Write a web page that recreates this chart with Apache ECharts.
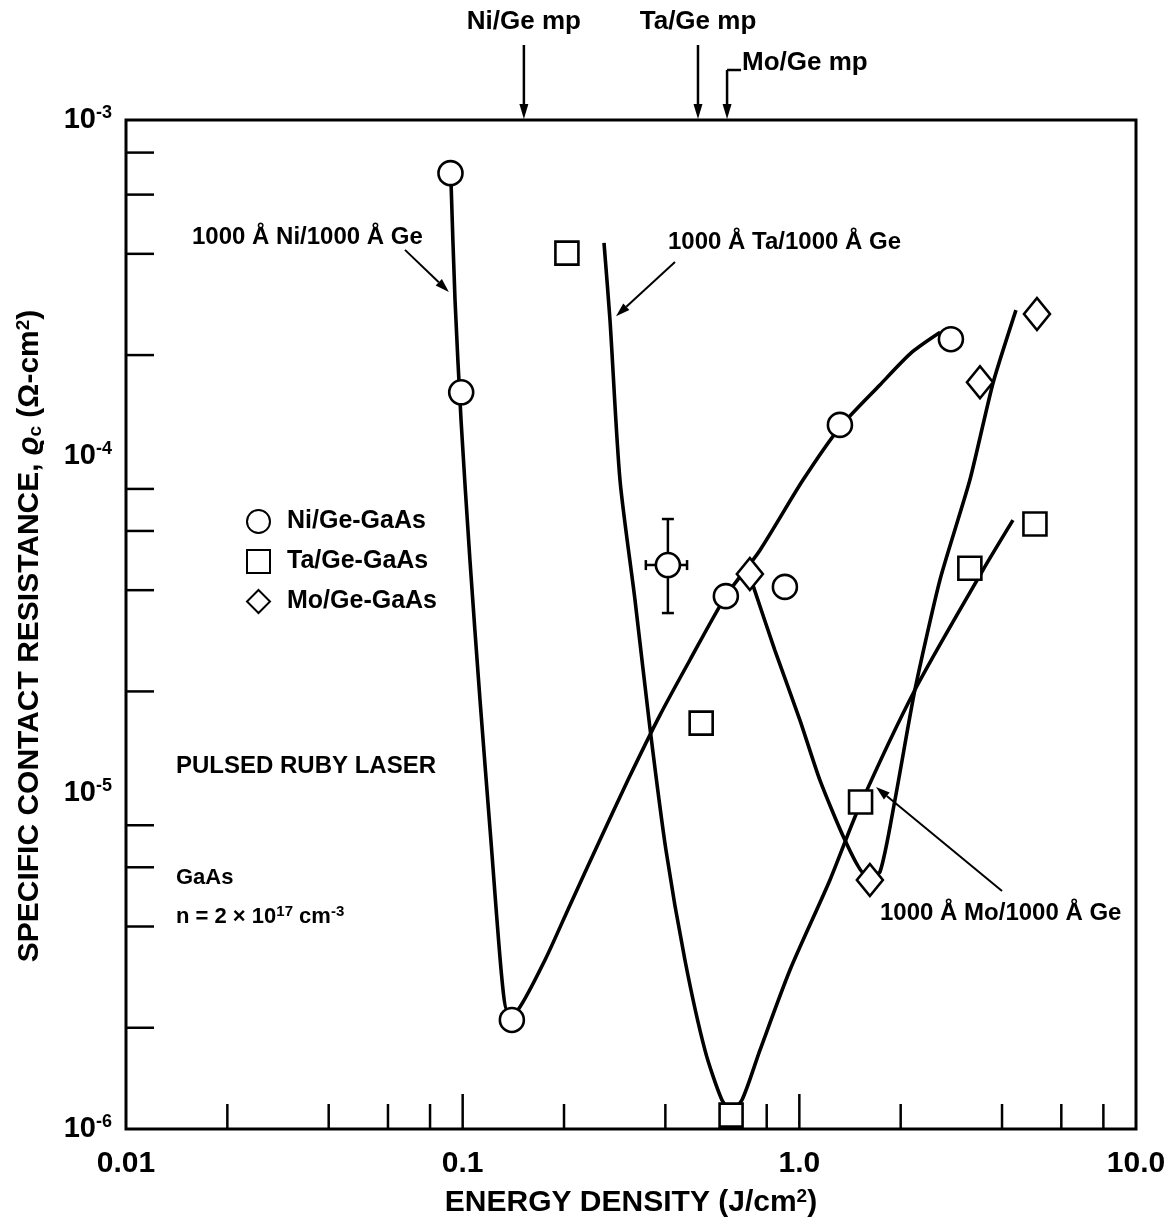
<!DOCTYPE html>
<html><head><meta charset="utf-8">
<script src="https://cdn.jsdelivr.net/npm/echarts@6/dist/echarts.min.js"></script>
<style>html,body{margin:0;padding:0;background:#fff}#c{width:1170px;height:1221px}</style>
</head><body><div id="c"></div>
<script>
// ---------- data ----------
const xTickText = {'-2':'0.01','-1':'0.1','0':'1.0','1':'10.0'};
const yMinorTicks = [2e-6,4e-6,6e-6,8e-6,2e-5,4e-5,6e-5,8e-5,2e-4,4e-4,6e-4,8e-4];
const xMinorTicks = [0.02,0.04,0.06,0.08,0.2,0.4,0.6,0.8,2,4,6,8];
const xMajorTicks = [0.1,1];

const niEnergy = [0.092, 0.099, 0.140, 0.605, 0.906, 1.32, 2.82, 0.407];
const niRes    = [6.95e-4, 1.55e-4, 2.11e-6, 3.84e-5, 4.09e-5, 1.24e-4, 2.23e-4, 4.75e-5];
const taEnergy = [0.204, 0.511, 0.627, 1.52, 3.21, 5.01];
const taRes    = [4.02e-4, 1.61e-5, 1.10e-6, 9.38e-6, 4.65e-5, 6.29e-5];
const moEnergy = [0.713, 1.62, 3.44, 5.08];
const moRes    = [4.47e-5, 5.5e-6, 1.66e-4, 2.65e-4];

// error bar on one Ni point: [energy, res, eLow, eHigh, resLow, resHigh]
const errBar = [0.407, 4.75e-5, 0.350, 0.464, 3.42e-5, 6.51e-5];

// fitted curves
const niCurveE = [0.0923,0.0949,0.0989,0.1051,0.1126,0.1213,0.1309,0.1363,0.146,0.1756,0.2083,0.2557,0.3097,0.3855,0.4732,0.605,0.764,1.025,1.32,1.735,2.16,2.62];
const niCurveR = [6.63e-4,2.92e-4,1.28e-4,4.91e-5,1.885e-5,7.23e-6,2.77e-6,2.23e-6,2.26e-6,3.18e-6,4.63e-6,7.23e-6,1.09e-5,1.70e-5,2.48e-5,3.84e-5,5.26e-5,8.50e-5,1.22e-4,1.63e-4,2.04e-4,2.34e-4];
const taCurveE = [0.2629,0.2739,0.2933,0.325,0.360,0.4016,0.4573,0.5244,0.589,0.627,0.6754,0.764,0.938,1.233,1.493,2.204,3.51,4.31];
const taCurveR = [4.31e-4,2.54e-4,8.50e-5,3.74e-5,1.556e-5,6.75e-6,3.18e-6,1.716e-6,1.219e-6,1.138e-6,1.219e-6,1.716e-6,2.97e-6,5.50e-6,8.88e-6,2.02e-5,4.59e-5,6.46e-5];
const moCurveE = [0.728,0.846,1.004,1.151,1.366,1.577,1.735,1.923,2.204,2.616,3.21,3.76,4.40];
const moCurveR = [4.14e-5,2.65e-5,1.644e-5,1.09e-5,7.23e-6,5.69e-6,5.81e-6,9.51e-6,2.02e-5,4.29e-5,8.50e-5,1.65e-4,2.72e-4];

// annotation arrows [x1,y1,x2,y2] (arrow head at second point)
const annoArrows = [
  [0.0674, 4.11e-4, 0.0910, 3.08e-4],
  [0.4272, 3.78e-4, 0.2854, 2.61e-4],
  [4.00, 5.10e-6, 1.689, 1.039e-5]
];
// melting points
const mpEnergy = [0.152, 0.50, 0.61];
const mpLabels = ['Ni/Ge mp', 'Ta/Ge mp', 'Mo/Ge mp'];

const F = '"Liberation Sans", Arial, Helvetica, sans-serif';
const zip = (a, b) => a.map((v, i) => [v, b[i]]);
const X_MIN = 0.01, X_MAX = 10, Y_MIN = 1e-6, Y_MAX = 1e-3;

const chart = echarts.init(document.getElementById('c'), null, {renderer: 'canvas'});

const markerStyle = {color: '#fff', borderColor: '#000', borderWidth: 2.6, opacity: 1};
const curveStyle = {color: '#000', width: 3.6};

const option = {
  animation: false,
  backgroundColor: '#fff',
  grid: {left: 126, top: 120, width: 1010, height: 1009, containLabel: false, outerBoundsMode: 'none',
    show: true, borderColor: '#000', borderWidth: 3, backgroundColor: 'transparent'},
  xAxis: {
    type: 'log', logBase: 10, min: X_MIN, max: X_MAX,
    axisLine: {show: false}, axisTick: {show: false}, splitLine: {show: false}, minorTick: {show: false},
    axisLabel: {margin: 20, color: '#000', fontFamily: F, fontSize: 30, fontWeight: 'bold',
      formatter: v => xTickText[String(Math.round(Math.log10(v)))] || ''},
    name: '{t|ENERGY DENSITY (J/cm}{s|2}{t|)}', nameLocation: 'middle', nameGap: 58,
    nameTextStyle: {rich: {
      t: {fontFamily: F, fontSize: 30, fontWeight: 'bold', color: '#000'},
      s: {fontFamily: F, fontSize: 19, fontWeight: 'bold', color: '#000', verticalAlign: 'top', padding: [0, 0, 12, 0]}
    }}
  },
  yAxis: {
    type: 'log', logBase: 10, min: Y_MIN, max: Y_MAX,
    axisLine: {show: false}, axisTick: {show: false}, splitLine: {show: false},
    axisLabel: {margin: 14, color: '#000',
      formatter: v => '{b|10}{s|' + Math.round(Math.log10(v)) + '}',
      rich: {
        b: {fontFamily: F, fontSize: 29, fontWeight: 'bold', color: '#000'},
        s: {fontFamily: F, fontSize: 18, fontWeight: 'bold', color: '#000', verticalAlign: 'top', padding: [0, 0, 14, 0]}
      }}
  },
  legend: {
    data: ['Ni/Ge-GaAs', 'Ta/Ge-GaAs', 'Mo/Ge-GaAs'], selectedMode: false,
    orient: 'vertical', left: 241, top: 504, itemWidth: 23, itemHeight: 23, itemGap: 15,
    textStyle: {fontFamily: F, fontSize: 25, fontWeight: 'bold', color: '#000', padding: [0, 0, 0, 12]}
  },
  series: [
    // axis ticks
    {type: 'custom', silent: true, clip: false, z: 1, data: yMinorTicks.map(v => [X_MIN, v]),
      renderItem: (p, api) => { const c = api.coord([api.value(0), api.value(1)]);
        return {type: 'line', shape: {x1: c[0], y1: c[1], x2: c[0] + 28, y2: c[1]}, style: {stroke: '#000', lineWidth: 2.5}}; }},
    {type: 'custom', silent: true, clip: false, z: 1, data: xMinorTicks.map(v => [v, Y_MIN]),
      renderItem: (p, api) => { const c = api.coord([api.value(0), api.value(1)]);
        return {type: 'line', shape: {x1: c[0], y1: c[1], x2: c[0], y2: c[1] - 25}, style: {stroke: '#000', lineWidth: 2.5}}; }},
    {type: 'custom', silent: true, clip: false, z: 1, data: xMajorTicks.map(v => [v, Y_MIN]),
      renderItem: (p, api) => { const c = api.coord([api.value(0), api.value(1)]);
        return {type: 'line', shape: {x1: c[0], y1: c[1], x2: c[0], y2: c[1] - 35}, style: {stroke: '#000', lineWidth: 2.5}}; }},
    // curves
    {type: 'line', name: 'niCurve', data: zip(niCurveE, niCurveR), showSymbol: false, symbol: 'none', smooth: 0.25, lineStyle: curveStyle, z: 2},
    {type: 'line', name: 'taCurve', data: zip(taCurveE, taCurveR), showSymbol: false, symbol: 'none', smooth: 0.25, lineStyle: curveStyle, z: 2},
    {type: 'line', name: 'moCurve', data: zip(moCurveE, moCurveR), showSymbol: false, symbol: 'none', smooth: 0.2, lineStyle: curveStyle, z: 2},
    // error bar
    {type: 'custom', silent: true, z: 3, data: [errBar],
      renderItem: (p, api) => {
        const c = api.coord([api.value(0), api.value(1)]);
        const xl = api.coord([api.value(2), api.value(1)]), xh = api.coord([api.value(3), api.value(1)]);
        const yl = api.coord([api.value(0), api.value(4)]), yh = api.coord([api.value(0), api.value(5)]);
        const st = {stroke: '#000', lineWidth: 2.5};
        return {type: 'group', children: [
          {type: 'line', shape: {x1: c[0], y1: yl[1], x2: c[0], y2: yh[1]}, style: st},
          {type: 'line', shape: {x1: c[0] - 6, y1: yl[1], x2: c[0] + 6, y2: yl[1]}, style: st},
          {type: 'line', shape: {x1: c[0] - 6, y1: yh[1], x2: c[0] + 6, y2: yh[1]}, style: st},
          {type: 'line', shape: {x1: xl[0], y1: c[1], x2: xh[0], y2: c[1]}, style: st},
          {type: 'line', shape: {x1: xl[0], y1: c[1] - 5, x2: xl[0], y2: c[1] + 5}, style: st},
          {type: 'line', shape: {x1: xh[0], y1: c[1] - 5, x2: xh[0], y2: c[1] + 5}, style: st}
        ]};
      }},
    // annotation arrows
    {type: 'custom', silent: true, z: 3, data: annoArrows,
      renderItem: (p, api) => {
        const a = api.coord([api.value(0), api.value(1)]), b = api.coord([api.value(2), api.value(3)]);
        const dx = b[0] - a[0], dy = b[1] - a[1], L = Math.hypot(dx, dy), ux = dx / L, uy = dy / L;
        const hl = 14, hw = 4.5;
        const bx = b[0] - ux * hl, by = b[1] - uy * hl;
        return {type: 'group', children: [
          {type: 'line', shape: {x1: a[0], y1: a[1], x2: bx, y2: by}, style: {stroke: '#000', lineWidth: 2}},
          {type: 'polygon', shape: {points: [[b[0], b[1]], [bx - uy * hw, by + ux * hw], [bx + uy * hw, by - ux * hw]]}, style: {fill: '#000'}}
        ]};
      }},
    // markers
    {type: 'scatter', name: 'Ni/Ge-GaAs', data: zip(niEnergy, niRes), symbol: 'circle', symbolSize: 24, itemStyle: markerStyle, z: 5},
    {type: 'scatter', name: 'Ta/Ge-GaAs', data: zip(taEnergy, taRes), symbol: 'rect', symbolSize: 23, itemStyle: markerStyle, z: 5},
    {type: 'scatter', name: 'Mo/Ge-GaAs', data: zip(moEnergy, moRes), symbol: 'diamond', symbolSize: [26, 32], itemStyle: markerStyle, z: 5}
  ]
};
chart.setOption(option);

// ---------- text annotations ----------
const T = (x, y, text, size, align, extra) => Object.assign({type: 'text', x: x, y: y, silent: true, z: 10,
  style: {text: text, font: 'bold ' + size + 'px ' + F, fill: '#000', textAlign: align || 'left', textVerticalAlign: 'middle'}}, extra || {});
const g = [];
g.push(T(192, 237, '1000 Å Ni/1000 Å Ge', 24));
g.push(T(668, 242, '1000 Å Ta/1000 Å Ge', 24));
g.push(T(880, 913, '1000 Å Mo/1000 Å Ge', 24));
g.push(T(176, 766, 'PULSED RUBY LASER', 24));
g.push(T(176, 878, 'GaAs', 22));
g.push({type: 'text', x: 176, y: 917, silent: true, z: 10, style: {
  text: '{a|n = 2 × 10}{s|17}{a| cm}{s|-3}', textVerticalAlign: 'middle', textAlign: 'left',
  rich: {a: {font: 'bold 22px ' + F, fill: '#000'}, s: {font: 'bold 15px ' + F, fill: '#000', verticalAlign: 'top', padding: [0, 0, 10, 0]}}}});
// y axis title
g.push({type: 'text', x: 30, y: 636, rotation: Math.PI / 2, silent: true, z: 10, style: {
  text: '{t|SPECIFIC CONTACT RESISTANCE, }{r|ϱ}{c|c}{t| (Ω-cm}{s|2}{t|)}', textAlign: 'center', textVerticalAlign: 'middle',
  rich: {t: {font: 'bold 30px ' + F, fill: '#000'}, r: {font: 'italic bold 30px ' + F, fill: '#000'},
         c: {font: 'bold 19px ' + F, fill: '#000', verticalAlign: 'bottom', padding: [8, 0, 0, 0]},
         s: {font: 'bold 19px ' + F, fill: '#000', verticalAlign: 'top', padding: [0, 0, 12, 0]}}}});
// melting point arrows
const topY = chart.convertToPixel({gridIndex: 0}, [1, Y_MAX])[1];
mpEnergy.forEach((e, i) => {
  const x = chart.convertToPixel({gridIndex: 0}, [e, Y_MAX])[0];
  const y0 = i === 2 ? 70 : 45;
  g.push({type: 'line', silent: true, shape: {x1: x, y1: y0, x2: x, y2: topY - 14}, style: {stroke: '#000', lineWidth: 2.5}});
  g.push({type: 'polygon', silent: true, shape: {points: [[x, topY - 1], [x - 4.5, topY - 16], [x + 4.5, topY - 16]]}, style: {fill: '#000'}});
  if (i === 2) {
    g.push({type: 'line', silent: true, shape: {x1: x, y1: y0, x2: x + 14, y2: y0}, style: {stroke: '#000', lineWidth: 2.5}});
    g.push(T(x + 15, 63, mpLabels[i], 26));
  } else {
    g.push(T(x, 22, mpLabels[i], 26, 'center'));
  }
});
chart.setOption({graphic: g});
</script></body></html>
